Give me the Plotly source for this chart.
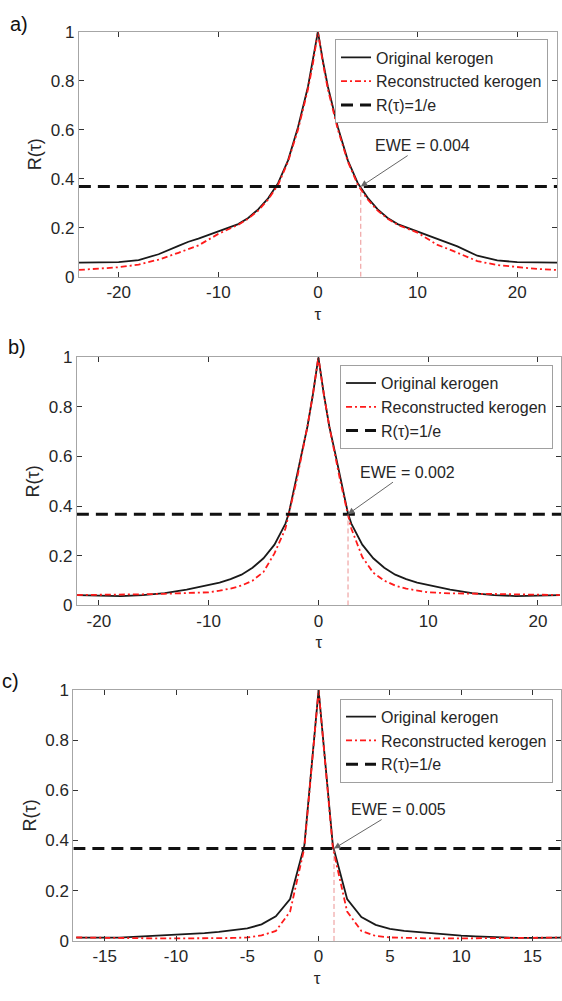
import plotly.graph_objects as go

# ---------------- data ----------------
# Panel a
tau_a = [-24, -22, -20, -18, -16, -14, -13, -12, -10, -8, -7, -6, -5, -4, -3, -2, -1, -0.5, 0,
         0.5, 1, 2, 3, 4, 5, 6, 7, 8, 10, 12, 13, 14, 16, 18, 20, 22, 24]
orig_a = [0.058, 0.058, 0.060, 0.068, 0.092, 0.126, 0.143, 0.156, 0.185, 0.215, 0.240, 0.275, 0.320,
          0.382, 0.475, 0.610, 0.775, 0.880, 1.000,
          0.880, 0.775, 0.610, 0.475, 0.382, 0.322, 0.275, 0.240, 0.215, 0.185, 0.154, 0.140, 0.124,
          0.086, 0.067, 0.060, 0.058, 0.058]
recon_a = [0.028, 0.032, 0.039, 0.050, 0.070, 0.098, 0.114, 0.128, 0.175, 0.212, 0.237, 0.270, 0.315,
           0.375, 0.470, 0.600, 0.765, 0.870, 1.000,
           0.870, 0.765, 0.600, 0.470, 0.375, 0.315, 0.270, 0.237, 0.212, 0.180, 0.130, 0.115, 0.097,
           0.064, 0.048, 0.039, 0.032, 0.028]

# Panel b
tau_b = [-22, -20, -18, -16, -14, -12, -10, -9, -8, -7, -6, -5, -4, -3, -2.7, -2, -1.5, -1, -0.5, 0,
         0.5, 1, 1.5, 2, 2.7, 3, 4, 5, 6, 7, 8, 9, 10, 12, 14, 16, 18, 20, 22]
orig_b = [0.042, 0.040, 0.038, 0.042, 0.050, 0.064, 0.082, 0.092, 0.106, 0.124, 0.152, 0.190, 0.245,
          0.330, 0.370, 0.510, 0.620, 0.720, 0.850, 1.000,
          0.850, 0.720, 0.620, 0.510, 0.370, 0.330, 0.245, 0.190, 0.152, 0.124, 0.106, 0.092, 0.082,
          0.064, 0.050, 0.042, 0.038, 0.040, 0.042]
recon_b = [0.042, 0.042, 0.043, 0.045, 0.047, 0.049, 0.053, 0.060, 0.068, 0.080, 0.100, 0.135, 0.210,
           0.310, 0.365, 0.500, 0.610, 0.720, 0.850, 1.000,
           0.850, 0.720, 0.610, 0.500, 0.365, 0.310, 0.195, 0.132, 0.100, 0.080, 0.068, 0.060, 0.053,
           0.049, 0.047, 0.045, 0.043, 0.042, 0.042]

# Panel c
tau_c = [-17, -16, -15, -14, -13, -12, -11, -10, -9, -8, -7, -6, -5, -4, -3, -2, -1, 0,
         1, 2, 3, 4, 5, 6, 7, 8, 9, 10, 11, 12, 13, 14, 15, 16, 17]
orig_c = [0.013, 0.012, 0.012, 0.013, 0.016, 0.019, 0.021, 0.023, 0.026, 0.031, 0.036, 0.042, 0.050,
          0.066, 0.098, 0.167, 0.380, 1.000,
          0.380, 0.167, 0.095, 0.064, 0.048, 0.040, 0.035, 0.029, 0.024, 0.021, 0.018, 0.015, 0.013,
          0.012, 0.012, 0.012, 0.013]
recon_c = [0.014, 0.013, 0.012, 0.011, 0.011, 0.010, 0.010, 0.010, 0.010, 0.010, 0.011, 0.012, 0.014,
           0.022, 0.040, 0.117, 0.370, 1.000,
           0.370, 0.117, 0.040, 0.020, 0.014, 0.012, 0.011, 0.010, 0.010, 0.010, 0.010, 0.010, 0.011,
           0.011, 0.012, 0.013, 0.014]

r_threshold = 0.3679             # R(tau) = 1/e
ewe_tau = [4.3, 2.7, 1.08]       # tau where curve meets 1/e
ewe_text = ["EWE = 0.004", "EWE = 0.002", "EWE = 0.005"]
panel_labels = ["a)", "b)", "c)"]
x_ranges = [[-24, 24], [-22, 22.1], [-17.2, 17.0]]
x_ticks = [[-20, -10, 0, 10, 20], [-20, -10, 0, 10, 20], [-15, -10, -5, 0, 5, 10, 15]]
x_ticktext = [["-20", "-10", "0", "10", "20"], ["-20", "-10", "0", "10", "20"],
              ["-15", "-10", "-5", "0", "5", "10", "15"]]
y_ticks = [0, 0.2, 0.4, 0.6, 0.8, 1]
y_ticktext = ["0", "0.2", "0.4", "0.6", "0.8", "1"]
legend_names = ["Original kerogen", "Reconstructed kerogen", "R(τ)=1/e"]

# ---------------- layout geometry (pixels) ----------------
W, H = 562, 1001
FONT = "Arial, Liberation Sans, sans-serif"
TXT = "#262626"
panels = [
    dict(tau=tau_a, o=orig_a, r=recon_a, xl=79, xr=558, yt=23, yb=273,
         leg=(549, 31), lab=(8, 15), ann=(62, -41)),
    dict(tau=tau_b, o=orig_b, r=recon_b, xl=77, xr=562, yt=355, yb=608,
         leg=(554, 363), lab=(6, 345), ann=(59, -42)),
    dict(tau=tau_c, o=orig_c, r=recon_c, xl=73.5, xr=562, yt=694, yb=950,
         leg=(554, 703), lab=(0, 685), ann=(64, -39)),
]

fig = go.Figure()
layout = dict(width=W, height=H, margin=dict(l=0, r=0, t=0, b=0),
              paper_bgcolor="white", plot_bgcolor="white",
              font=dict(family=FONT, color=TXT, size=17), annotations=[])

for i, p in enumerate(panels):
    sx = "" if i == 0 else str(i + 1)
    xa, ya = "x" + sx, "y" + sx
    lg = "legend" + sx
    fig.add_trace(go.Scatter(x=p["tau"], y=p["o"], mode="lines", name=legend_names[0],
                             line=dict(color="#1a1a1a", width=1.8),
                             xaxis=xa, yaxis=ya, legend=lg))
    fig.add_trace(go.Scatter(x=p["tau"], y=p["r"], mode="lines", name=legend_names[1],
                             line=dict(color="#ff1a1a", width=1.8, dash="6px,3px,2px,3px"),
                             xaxis=xa, yaxis=ya, legend=lg))
    fig.add_trace(go.Scatter(x=x_ranges[i], y=[r_threshold, r_threshold], mode="lines",
                             name=legend_names[2],
                             line=dict(color="#111111", width=3, dash="12px,7px"),
                             xaxis=xa, yaxis=ya, legend=lg))
    fig.add_trace(go.Scatter(x=[ewe_tau[i], ewe_tau[i]], y=[0, r_threshold], mode="lines",
                             showlegend=False, hoverinfo="skip",
                             line=dict(color="rgba(230,110,110,0.75)", width=1, dash="5px,3px"),
                             xaxis=xa, yaxis=ya))

    xdom = [p["xl"] / W, min(p["xr"] / W, 1.0)]
    ydom = [1 - p["yb"] / H, 1 - p["yt"] / H]
    axis_common = dict(showline=True, linecolor="#a6a6a6", linewidth=1, mirror="ticks",
                       ticks="inside", ticklen=5, tickcolor="#333333", showgrid=False,
                       zeroline=False, tickfont=dict(size=17, family=FONT, color=TXT))
    layout["xaxis" + sx] = dict(axis_common, domain=xdom, range=x_ranges[i], anchor=ya,
                                tickmode="array", tickvals=x_ticks[i], ticktext=x_ticktext[i],
                                title=dict(text="τ", font=dict(size=17, family=FONT), standoff=6))
    layout["yaxis" + sx] = dict(axis_common, domain=ydom, range=[0, 1], anchor=xa,
                                tickmode="array", tickvals=y_ticks, ticktext=y_ticktext,
                                title=dict(text="R(τ)", font=dict(size=18, family=FONT), standoff=4))
    layout[lg] = dict(x=p["leg"][0] / W, y=1 - p["leg"][1] / H, xanchor="right", yanchor="top",
                      xref="paper", yref="paper",
                      bgcolor="white", bordercolor="#a0a0a0", borderwidth=1,
                      font=dict(size=16, family=FONT, color=TXT), tracegroupgap=0,
                      itemwidth=30)
    layout["annotations"].append(dict(
        x=ewe_tau[i], y=r_threshold, xref=xa, yref=ya, text=ewe_text[i],
        showarrow=True, ax=p["ann"][0], ay=p["ann"][1], arrowhead=2, arrowsize=1.3,
        arrowwidth=1, arrowcolor="#666666", font=dict(size=16, family=FONT, color=TXT)))
    layout["annotations"].append(dict(
        x=p["lab"][0] / W, y=1 - p["lab"][1] / H, xref="paper", yref="paper",
        xanchor="left", yanchor="middle", text=panel_labels[i], showarrow=False,
        font=dict(size=20, family=FONT, color="#111111")))

fig.update_layout(**layout)
fig.write_html("out.html",
               post_script="document.body.style.margin='0';document.body.style.padding='0';")
